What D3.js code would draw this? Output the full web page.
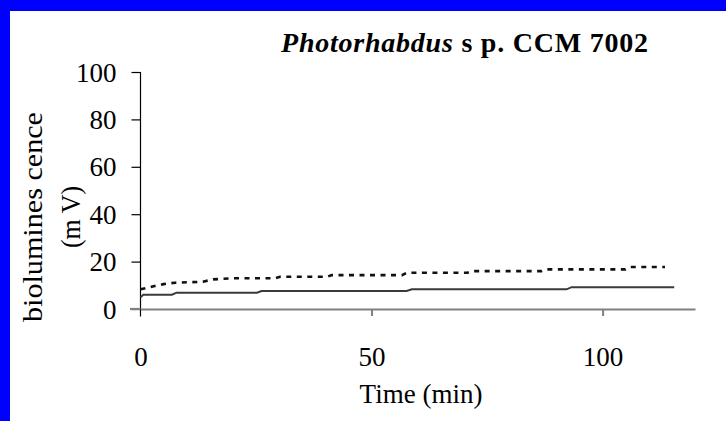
<!DOCTYPE html>
<html>
<head>
<meta charset="utf-8">
<script src="https://cdn.jsdelivr.net/npm/d3@7"></script>
<style>
html,body{margin:0;padding:0;background:#fff;}
svg{display:block;}
</style>
</head>
<body>
<svg id="chart" width="726" height="421"></svg>
<script>
// ---- data ----
const titleItalic = "Photorhabdus";
const titleRest = " s p. CCM 7002";
const xLabel = "Time (min)";
const yLabelLines = ["biolumines cence", "(m V)"];
const xTicks = [0, 50, 100];
const yTicks = [0, 20, 40, 60, 80, 100];

// solid series
const solidTime  = [0, 0.6, 6.8, 7.8, 25.2, 26.2, 57.6, 58.7, 92.2, 93.3, 115.5];
const solidValue = [4.9, 6.0, 6.0, 6.9, 6.9, 7.6, 7.6, 8.3, 8.3, 9.2, 9.2];

// dashed series
const dashTime  = [0, 2.4, 5, 7.5, 13.5, 15.7, 20, 29.2, 30.2, 40.4, 41.4, 56.6, 57.6, 70.7, 71.7, 86.8, 87.8, 104.9, 105.9, 113.5];
const dashValue = [8.3, 9.4, 10.5, 11.1, 11.5, 12.5, 13.0, 13.0, 13.6, 13.6, 14.3, 14.3, 15.3, 15.3, 16.0, 16.0, 16.7, 16.7, 17.7, 17.7];

// ---- drawing ----
const svg = d3.select("#chart");
const FONT = "'Liberation Serif','Times New Roman',serif";

svg.append("rect").attr("x",0).attr("y",0).attr("width",726).attr("height",421).attr("fill","#0000ff");
svg.append("rect").attr("x",10).attr("y",11).attr("width",716).attr("height",410).attr("fill","#ffffff");

const x = d3.scaleLinear().domain([0,120]).range([140.5,695]);
const y = d3.scaleLinear().domain([0,100]).range([309,72]);

// y axis
const yAxis = svg.append("g").attr("transform","translate(140.5,0)")
  .call(d3.axisLeft(y).tickValues(yTicks).tickSize(9).tickSizeOuter(0).tickPadding(15));
yAxis.select(".domain").remove();
yAxis.selectAll(".tick line").attr("stroke","#000").attr("stroke-width",1.2);
yAxis.selectAll(".tick text").attr("font-family",FONT).attr("font-size",27).attr("fill","#000").attr("dy","0.34em");
svg.append("line").attr("x1",140.5).attr("x2",140.5).attr("y1",y(100)).attr("y2",316.5)
  .attr("stroke","#000").attr("stroke-width",1.2);

// x axis
const xAxis = svg.append("g").attr("transform","translate(0,309)")
  .call(d3.axisBottom(x).tickValues(xTicks).tickSize(7).tickSizeOuter(0).tickPadding(31));
xAxis.select(".domain").attr("stroke","#808080").attr("stroke-width",2.2);
xAxis.selectAll(".tick line").attr("stroke","#808080").attr("stroke-width",2);
xAxis.selectAll(".tick").filter(d => d === 0).select("line").remove();
xAxis.selectAll(".tick text").attr("font-family",FONT).attr("font-size",27).attr("fill","#000");
svg.append("line").attr("x1",130).attr("x2",140.5).attr("y1",309).attr("y2",309)
  .attr("stroke","#808080").attr("stroke-width",2.2);

// lines
const solidData = solidTime.map((t,i)=>[t, solidValue[i]]);
const dashData = dashTime.map((t,i)=>[t, dashValue[i]]);
const line = d3.line().x(d=>x(d[0])).y(d=>y(d[1]));

svg.append("path").datum(solidData).attr("d",line)
  .attr("fill","none").attr("stroke","#3a3a3a").attr("stroke-width",2);
svg.append("path").datum(dashData).attr("d",line)
  .attr("fill","none").attr("stroke","#111").attr("stroke-width",2.6)
  .attr("stroke-dasharray","5,5.5");

// title
const title = svg.append("text").attr("x",281).attr("y",52)
  .attr("font-family",FONT).attr("font-size",28).attr("font-weight","bold").attr("fill","#000")
  .attr("textLength",367).attr("lengthAdjust","spacing");
title.append("tspan").attr("font-style","italic").text(titleItalic);
title.append("tspan").text(titleRest);

// x label
svg.append("text").attr("x",421).attr("y",403).attr("text-anchor","middle")
  .attr("font-family",FONT).attr("font-size",27).attr("fill","#000").text(xLabel);

// y label
const yl = svg.append("text").attr("transform","translate(42,217) rotate(-90)")
  .attr("font-family",FONT).attr("font-size",27).attr("fill","#000");
yl.append("tspan").attr("x",-105).attr("y",0)
  .attr("textLength",210).attr("lengthAdjust","spacingAndGlyphs").text(yLabelLines[0]);
yl.append("tspan").attr("x",-31).attr("y",38)
  .attr("textLength",62).attr("lengthAdjust","spacingAndGlyphs").text(yLabelLines[1]);
</script>
</body>
</html>
